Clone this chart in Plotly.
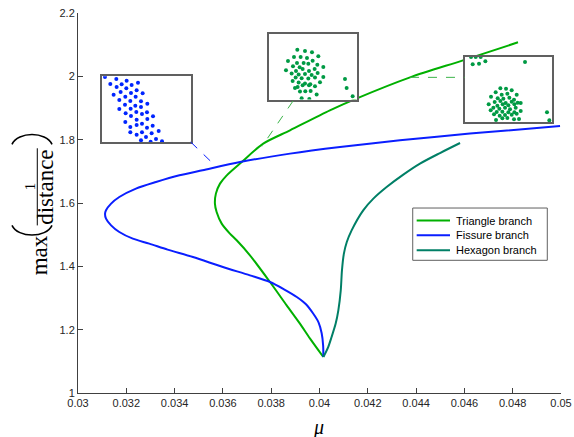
import plotly.graph_objects as go

# ---------------- data ----------------
tri_mu = [0.04016, 0.03961, 0.03919, 0.03864, 0.03795, 0.03712, 0.03657, 0.03629,
          0.03595, 0.03574, 0.03567, 0.03571, 0.03588, 0.03616, 0.03678, 0.03767,
          0.03878, 0.04043, 0.04155, 0.04375, 0.04594, 0.04822]
tri_y = [1.1137, 1.1718, 1.2191, 1.2769, 1.3505, 1.4348, 1.4822, 1.5033,
         1.5349, 1.5715, 1.5980, 1.6296, 1.6612, 1.6874, 1.7294, 1.7875,
         1.8295, 1.8926, 1.9305, 1.9968, 2.0505, 2.1074]

fis_mu = [0.04016, 0.04015, 0.04009, 0.03996, 0.03973, 0.03944, 0.03906, 0.03853,
          0.03795, 0.03712, 0.03600, 0.03476, 0.03371, 0.03295, 0.03227, 0.03171,
          0.03137, 0.03116, 0.03112, 0.03116, 0.03137, 0.03171, 0.03240, 0.03323,
          0.03420, 0.03516, 0.03671, 0.03878, 0.04085, 0.04333, 0.04623, 0.04996]
fis_y = [1.1137, 1.1506, 1.1885, 1.2232, 1.2517, 1.2801, 1.3031, 1.3274,
         1.3505, 1.3716, 1.3979, 1.4294, 1.4528, 1.4717, 1.4875, 1.5084,
         1.5295, 1.5507, 1.5665, 1.5769, 1.5980, 1.6189, 1.6454, 1.6662,
         1.6874, 1.7036, 1.7294, 1.7559, 1.7768, 1.7979, 1.8191, 1.8431]

hex_mu = [0.04016, 0.04036, 0.04050, 0.04067, 0.04078, 0.04088, 0.04093, 0.04101,
          0.04113, 0.04133, 0.04181, 0.04223, 0.04278, 0.04347, 0.04416, 0.04499, 0.04582]
hex_y = [1.1137, 1.1452, 1.1768, 1.2191, 1.2611, 1.3243, 1.3874, 1.4402,
         1.4768, 1.5137, 1.5769, 1.6138, 1.6505, 1.6896, 1.7243, 1.7578, 1.7894]

x_ticks = [0.03, 0.032, 0.034, 0.036, 0.038, 0.04, 0.042, 0.044, 0.046, 0.048, 0.05]
x_ticklabels = ["0.03", "0.032", "0.034", "0.036", "0.038", "0.04", "0.042", "0.044",
                "0.046", "0.048", "0.05"]
y_ticks = [1, 1.2, 1.4, 1.6, 1.8, 2, 2.2]
y_ticklabels = ["1", "1.2", "1.4", "1.6", "1.8", "2", "2.2"]

series_names = ["Triangle branch", "Fissure branch", "Hexagon branch"]

# inset particle configurations (inset-local coordinates)
in1_x = [30, 64, 95, 46, 80, 110, 129, 65, 94, 125, 56, 77, 108, 143, 91, 122, 73, 106,
         138, 157, 90, 121, 73, 107, 138, 156, 92, 124, 108, 141, 174, 125, 157, 91, 141,
         173, 106, 125, 156, 191, 106, 125, 141, 170, 153, 183, 138, 167, 201]
in1_y = [20, 26, 31, 41, 42, 44, 37, 50, 54, 60, 73, 65, 68, 69, 79, 79, 89, 92,
         93, 100, 103, 106, 116, 115, 110, 126, 129, 125, 137, 131, 138, 148, 146, 155, 160,
         166, 170, 164, 172, 182, 186, 193, 186, 189, 200, 206, 210, 214, 213]

in2_x = [97, 120, 141, 87, 107, 126, 160, 69, 96, 116, 143, 84, 104, 130, 157, 175,
         63, 93, 113, 132, 149, 80, 101, 120, 140, 158, 92, 110, 130, 150, 175,
         83, 101, 120, 136, 165, 98, 113, 132, 150, 90, 105, 121, 137, 155, 110, 133,
         240, 245, 263]
in2_y = [58, 62, 66, 80, 80, 83, 78, 92, 98, 98, 91, 108, 111, 100, 103, 110,
         120, 122, 116, 122, 116, 130, 133, 131, 134, 128, 142, 144, 145, 142, 140,
         152, 157, 160, 162, 156, 170, 165, 165, 168, 173, 184, 183, 182, 193, 204, 206,
         146, 173, 198]

in3_x = [33, 47, 62, 38, 57, 76, 195,
         121, 138, 155, 107, 125, 142, 170, 93, 113, 130, 148, 162,
         104, 121, 137, 155, 173, 86, 112, 128, 145, 163, 182,
         100, 118, 135, 150, 167, 92, 110, 127, 145, 163, 182,
         102, 119, 135, 155, 170, 108, 127, 142, 162, 177, 261, 268]
in3_y = [20, 20, 20, 42, 40, 33, 35,
         114, 115, 120, 126, 133, 130, 133, 139, 144, 145, 142, 148,
         155, 152, 158, 154, 157, 162, 166, 162, 165, 162, 158,
         172, 175, 172, 177, 172, 180, 185, 184, 186, 186, 182,
         192, 196, 194, 193, 190, 209, 204, 203, 207, 206, 186, 210]

GREEN = "#00b000"
BLUE = "#0a1eff"
TEAL = "#007f66"
DOT_G = "#009a44"
DOT_B = "#0025ff"
FRAME = "#606060"
AX = "#404040"
colors = [GREEN, BLUE, TEAL]

fig = go.Figure()
for nm, xs, ys, c in zip(series_names, [tri_mu, fis_mu, hex_mu], [tri_y, fis_y, hex_y], colors):
    fig.add_trace(go.Scatter(x=xs, y=ys, mode="lines", name=nm, showlegend=False,
                             line=dict(color=c, width=2, shape="spline", smoothing=0.8)))

# connectors
fig.add_shape(type="line", xref="x", yref="y", x0=0.034667, y0=1.7926, x1=0.035673, y1=1.7186,
              line=dict(color=BLUE, width=1, dash="dash"))
fig.add_shape(type="line", xref="x", yref="y", x0=0.038903, y0=1.922, x1=0.037619, y1=1.779,
              line=dict(color="#3bb44a", width=1, dash="dash"))
fig.add_shape(type="line", xref="x", yref="y", x0=0.043747, y0=1.9968, x1=0.046012, y1=1.9968,
              line=dict(color="#3bb44a", width=1, dash="dash"))

# insets
fig.add_trace(go.Scatter(x=in1_x, y=in1_y, mode="markers", showlegend=False,
                         marker=dict(color=DOT_B, size=4), xaxis="x2", yaxis="y2"))
fig.add_trace(go.Scatter(x=in2_x, y=in2_y, mode="markers", showlegend=False,
                         marker=dict(color=DOT_G, size=4), xaxis="x3", yaxis="y3"))
fig.add_trace(go.Scatter(x=in3_x, y=in3_y, mode="markers", showlegend=False,
                         marker=dict(color=DOT_G, size=4), xaxis="x4", yaxis="y4"))

def inset_axes(dx, dy, xr, yr, n):
    ax = dict(domain=dx, range=xr, showline=True, mirror=True, linecolor=FRAME, linewidth=1.5,
              showgrid=False, zeroline=False, showticklabels=False, ticks="",
              anchor="y%d" % n, automargin=False)
    ay = dict(domain=dy, range=yr, showline=True, mirror=True, linecolor=FRAME, linewidth=1.5,
              showgrid=False, zeroline=False, showticklabels=False, ticks="",
              anchor="x%d" % n, automargin=False)
    return ax, ay

ax2, ay2 = inset_axes([0.0503, 0.2333], [0.6605, 0.8334], [22, 287], [215, 18], 2)
ax3, ay3 = inset_axes([0.3954, 0.5783], [0.7721, 0.9439], [12, 277], [208, 12], 3)
ax4, ay4 = inset_axes([0.8006, 0.9807], [0.7132, 0.8842], [14, 275], [215, 20], 4)

tickfont = dict(family="Liberation Sans, Arial, sans-serif", size=11, color="#262626")

fig.update_layout(
    template="none",
    width=574, height=437,
    margin=dict(l=78, r=13, t=13, b=44),
    plot_bgcolor="white", paper_bgcolor="white",
    xaxis=dict(range=[0.03, 0.05], tickvals=x_ticks, ticktext=x_ticklabels,
               showline=True, linecolor=AX, linewidth=1, ticks="inside", ticklen=5,
               tickcolor=AX, showgrid=False, zeroline=False, tickfont=tickfont,
               automargin=False),
    yaxis=dict(range=[1, 2.2], tickvals=y_ticks, ticktext=y_ticklabels,
               showline=True, linecolor=AX, linewidth=1, ticks="inside", ticklen=5,
               tickcolor=AX, showgrid=False, zeroline=False, tickfont=tickfont,
               automargin=False),
    xaxis2=ax2, yaxis2=ay2, xaxis3=ax3, yaxis3=ay3, xaxis4=ax4, yaxis4=ay4,
    showlegend=False,
)

# legend (drawn box with line samples and labels)
fig.add_shape(type="rect", xref="paper", yref="paper", x0=0.693, x1=0.9716, y0=0.3492, y1=0.4868,
              line=dict(color=FRAME, width=1), fillcolor="white", layer="above")
leg_y = [0.4539, 0.4150, 0.3755]
for nm, c, yy in zip(series_names, colors, leg_y):
    fig.add_shape(type="line", xref="paper", yref="paper", x0=0.7012, x1=0.7702, y0=yy, y1=yy,
                  line=dict(color=c, width=2), layer="above")
    fig.add_annotation(text=nm, x=0.7791, y=yy, xref="paper", yref="paper",
                       xanchor="left", yanchor="middle", showarrow=False,
                       font=dict(family="Liberation Sans, Arial, sans-serif", size=11, color="#000"))

# y-axis label: max( 1 / distance ), rotated
serif = "Liberation Serif, DejaVu Serif, serif"
ann = [
    dict(text="max", x=-0.0807, y=0.3624, size=23),
    dict(text="1", x=-0.0994, y=0.544, size=15),
    dict(text="distance", x=-0.0663, y=0.5426, size=23),
]
for a in ann:
    fig.add_annotation(text=a["text"], x=a["x"], y=a["y"], xref="paper", yref="paper",
                       xanchor="center", yanchor="middle", textangle=-90, showarrow=False,
                       font=dict(family=serif, size=a["size"], color="#000"))
fig.add_shape(type="line", xref="paper", yref="paper", x0=-0.0843, x1=-0.0843,
              y0=0.441, y1=0.644, line=dict(color="#000", width=1))
# large parentheses
fig.add_shape(type="path", xref="paper", yref="paper",
              path="M -0.13665,0.4413 C -0.12422,0.4071 -0.06625,0.4071 -0.05383,0.4413",
              line=dict(color="#000", width=1.6))
fig.add_shape(type="path", xref="paper", yref="paper",
              path="M -0.13665,0.6545 C -0.12422,0.6887 -0.06625,0.6887 -0.05383,0.6545",
              line=dict(color="#000", width=1.6))

fig.add_annotation(text="<i>μ</i>", x=0.4984, y=-0.0903, xref="paper", yref="paper",
                   xanchor="center", yanchor="middle", showarrow=False,
                   font=dict(family=serif, size=20, color="#000"))

fig.write_html("out.html")
